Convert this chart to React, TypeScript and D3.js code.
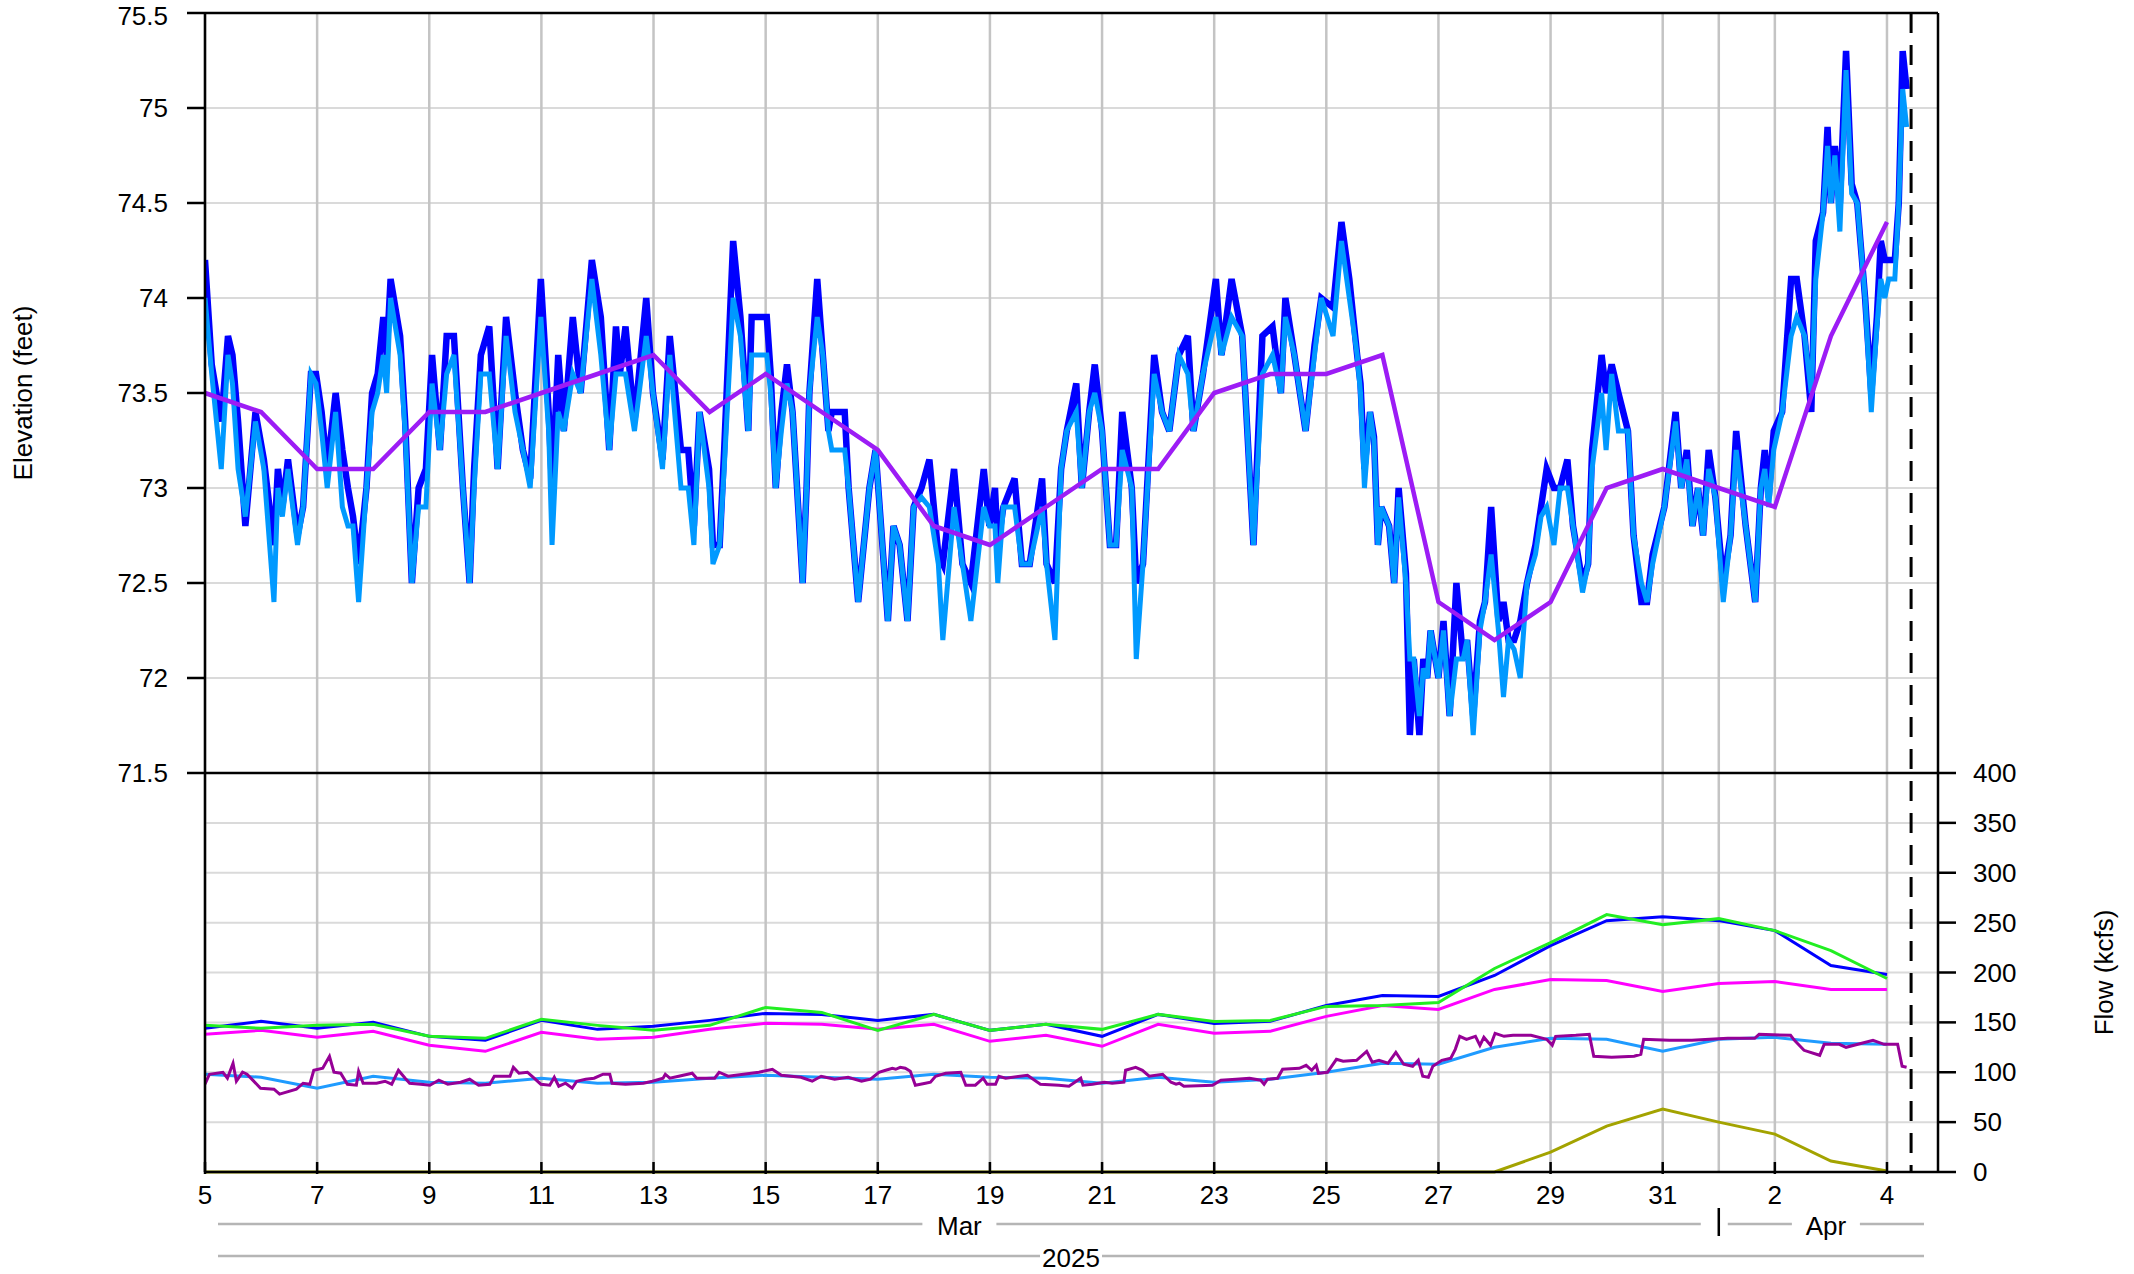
import React, { useEffect } from "react";
import * as d3 from "d3";

// elevation readings: [days since Mar 5, gauge A, gauge B]
const elevationObs: [number, number, number][] = [
  [0.0, 74.2, 74.0], [0.12, 73.65, 73.6], [0.29, 73.35, 73.1], [0.41, 73.8, 73.7], [0.49, 73.7, 73.55],
  [0.59, 73.35, 73.1], [0.72, 72.8, 72.85], [0.9, 73.4, 73.35], [1.05, 73.15, 73.1], [1.23, 72.7, 72.4],
  [1.3, 73.1, 73.0], [1.38, 72.9, 72.85], [1.48, 73.15, 73.1], [1.65, 72.75, 72.7], [1.75, 72.9, 72.9],
  [1.89, 73.6, 73.6], [1.98, 73.6, 73.55], [2.08, 73.4, 73.3], [2.18, 73.1, 73.0], [2.33, 73.5, 73.4],
  [2.45, 73.2, 72.9], [2.55, 73.0, 72.8], [2.64, 72.85, 72.8], [2.74, 72.6, 72.4], [2.88, 73.0, 73.0],
  [2.98, 73.5, 73.4], [3.08, 73.6, 73.5], [3.18, 73.9, 73.7], [3.24, 73.7, 73.5], [3.31, 74.1, 74.0],
  [3.48, 73.8, 73.7], [3.57, 73.35, 73.3], [3.69, 72.5, 72.5], [3.81, 73.0, 72.9], [3.94, 73.1, 72.9],
  [4.05, 73.7, 73.55], [4.19, 73.2, 73.2], [4.31, 73.8, 73.6], [4.44, 73.8, 73.7], [4.6, 73.0, 73.0],
  [4.72, 72.5, 72.5], [4.8, 73.1, 73.0], [4.92, 73.7, 73.6], [5.07, 73.85, 73.6], [5.22, 73.1, 73.1],
  [5.37, 73.9, 73.8], [5.53, 73.5, 73.4], [5.67, 73.2, 73.2], [5.8, 73.05, 73.0], [5.99, 74.1, 73.9],
  [6.13, 73.4, 73.3], [6.19, 73.0, 72.7], [6.3, 73.7, 73.4], [6.4, 73.3, 73.3], [6.56, 73.9, 73.6],
  [6.7, 73.5, 73.5], [6.9, 74.2, 74.1], [7.06, 73.9, 73.7], [7.21, 73.2, 73.2], [7.33, 73.85, 73.6],
  [7.4, 73.6, 73.6], [7.5, 73.85, 73.6], [7.66, 73.35, 73.3], [7.87, 74.0, 73.8], [7.99, 73.5, 73.5],
  [8.16, 73.15, 73.1], [8.29, 73.8, 73.7], [8.49, 73.2, 73.0], [8.62, 73.2, 73.0], [8.72, 72.8, 72.7],
  [8.82, 73.4, 73.4], [8.99, 73.1, 73.0], [9.06, 72.7, 72.6], [9.18, 72.7, 72.7], [9.26, 73.2, 73.1],
  [9.42, 74.3, 74.0], [9.55, 73.9, 73.8], [9.69, 73.3, 73.3], [9.75, 73.9, 73.7], [10.02, 73.9, 73.7],
  [10.09, 73.6, 73.5], [10.18, 73.0, 73.0], [10.28, 73.4, 73.3], [10.38, 73.65, 73.55], [10.48, 73.4, 73.4],
  [10.66, 72.5, 72.5], [10.73, 73.0, 73.0], [10.78, 73.5, 73.5], [10.92, 74.1, 73.9], [11.02, 73.7, 73.7],
  [11.12, 73.3, 73.3], [11.18, 73.4, 73.2], [11.41, 73.4, 73.2], [11.48, 73.0, 73.0], [11.65, 72.4, 72.4],
  [11.85, 73.0, 73.0], [11.96, 73.2, 73.2], [12.18, 72.3, 72.3], [12.28, 72.8, 72.8], [12.39, 72.7, 72.7],
  [12.53, 72.3, 72.3], [12.64, 72.9, 72.9], [12.78, 73.0, 72.95], [12.92, 73.15, 72.9], [13.08, 72.65, 72.6],
  [13.16, 72.6, 72.2], [13.36, 73.1, 72.9], [13.51, 72.6, 72.6], [13.66, 72.5, 72.3], [13.89, 73.1, 72.9],
  [13.99, 72.8, 72.8], [14.09, 73.0, 72.8], [14.14, 72.7, 72.5], [14.24, 72.9, 72.9], [14.44, 73.05, 72.9],
  [14.57, 72.6, 72.6], [14.71, 72.6, 72.6], [14.93, 73.05, 72.9], [15.01, 72.6, 72.6], [15.16, 72.5, 72.2],
  [15.27, 73.1, 73.1], [15.37, 73.3, 73.3], [15.54, 73.55, 73.4], [15.64, 73.0, 73.0], [15.77, 73.4, 73.4],
  [15.87, 73.65, 73.5], [16.0, 73.3, 73.3], [16.14, 72.7, 72.7], [16.25, 72.7, 72.7], [16.36, 73.4, 73.2],
  [16.53, 73.0, 73.0], [16.61, 72.5, 72.1], [16.73, 72.6, 72.6], [16.93, 73.7, 73.6], [17.07, 73.4, 73.4],
  [17.2, 73.3, 73.3], [17.37, 73.7, 73.7], [17.53, 73.8, 73.6], [17.63, 73.3, 73.3], [17.8, 73.6, 73.6],
  [18.03, 74.1, 73.9], [18.13, 73.7, 73.7], [18.31, 74.1, 73.9], [18.5, 73.8, 73.8], [18.7, 72.7, 72.7],
  [18.86, 73.8, 73.6], [19.04, 73.85, 73.7], [19.19, 73.5, 73.5], [19.27, 74.0, 73.9], [19.43, 73.7, 73.7],
  [19.63, 73.3, 73.3], [19.79, 73.75, 73.7], [19.91, 74.0, 74.0], [20.12, 73.95, 73.8], [20.27, 74.4, 74.3],
  [20.41, 74.1, 74.0], [20.55, 73.7, 73.7], [20.61, 73.55, 73.5], [20.68, 73.1, 73.0], [20.78, 73.4, 73.4],
  [20.85, 73.27, 73.25], [20.92, 72.7, 72.7], [20.98, 72.9, 72.9], [21.12, 72.8, 72.8], [21.21, 72.5, 72.5],
  [21.29, 73.0, 72.95], [21.42, 72.55, 72.5], [21.49, 71.7, 72.1], [21.56, 72.1, 72.1], [21.66, 71.7, 71.8],
  [21.73, 72.1, 72.05], [21.8, 72.0, 72.0], [21.86, 72.25, 72.25], [22.0, 72.0, 72.0], [22.09, 72.3, 72.25],
  [22.2, 71.8, 71.8], [22.32, 72.5, 72.1], [22.44, 72.1, 72.1], [22.51, 72.2, 72.2], [22.62, 71.8, 71.7],
  [22.74, 72.3, 72.25], [22.83, 72.4, 72.4], [22.94, 72.9, 72.65], [23.07, 72.3, 72.25], [23.16, 72.4, 71.9],
  [23.25, 72.2, 72.2], [23.35, 72.2, 72.15], [23.46, 72.3, 72.0], [23.58, 72.5, 72.5], [23.73, 72.7, 72.65],
  [23.83, 72.9, 72.85], [23.93, 73.1, 72.9], [24.06, 73.0, 72.7], [24.17, 73.0, 73.0], [24.3, 73.15, 73.0],
  [24.4, 72.8, 72.8], [24.57, 72.5, 72.45], [24.67, 72.6, 72.6], [24.74, 73.2, 73.1], [24.91, 73.7, 73.5],
  [24.99, 73.5, 73.2], [25.09, 73.65, 73.6], [25.21, 73.5, 73.3], [25.38, 73.3, 73.3], [25.48, 72.75, 72.75],
  [25.62, 72.4, 72.5], [25.72, 72.4, 72.4], [25.82, 72.65, 72.6], [26.03, 72.9, 72.9], [26.23, 73.4, 73.35],
  [26.33, 73.0, 73.0], [26.43, 73.2, 73.15], [26.53, 72.8, 72.8], [26.63, 73.0, 73.0], [26.72, 72.75, 72.75],
  [26.82, 73.2, 73.1], [26.94, 72.95, 72.95], [27.08, 72.5, 72.4], [27.21, 72.75, 72.75], [27.31, 73.3, 73.2],
  [27.48, 72.8, 72.8], [27.65, 72.4, 72.4], [27.75, 73.0, 73.0], [27.82, 73.2, 73.1], [27.89, 72.95, 72.9],
  [27.98, 73.3, 73.2], [28.13, 73.4, 73.4], [28.29, 74.1, 73.8], [28.39, 74.1, 73.9], [28.53, 73.8, 73.8],
  [28.65, 73.4, 73.5], [28.73, 74.3, 74.1], [28.86, 74.45, 74.45], [28.94, 74.9, 74.8], [29.0, 74.5, 74.5],
  [29.07, 74.8, 74.75], [29.16, 74.5, 74.35], [29.27, 75.3, 75.2], [29.37, 74.6, 74.55], [29.47, 74.5, 74.5],
  [29.61, 74.0, 74.0], [29.72, 73.5, 73.4], [29.82, 73.9, 73.85], [29.89, 74.3, 74.1], [29.96, 74.2, 74.0],
  [30.03, 74.2, 74.1], [30.14, 74.2, 74.1], [30.21, 74.5, 74.5], [30.28, 75.3, 75.1], [30.35, 75.1, 74.9],
];

// daily values, one per day from Mar 5 to Apr 4
const dailyDays = [0, 1, 2, 3, 4, 5, 6, 7, 8, 9, 10, 11, 12, 13, 14, 15, 16, 17, 18, 19, 20, 21, 22, 23, 24, 25, 26, 27, 28, 29, 30];
const elevDaily = [73.5, 73.4, 73.1, 73.1, 73.4, 73.4, 73.5, 73.6, 73.7, 73.4, 73.6, 73.4, 73.2, 72.8, 72.7, 72.9, 73.1, 73.1, 73.5, 73.6, 73.6, 73.7, 72.4, 72.2, 72.4, 73.0, 73.1, 73.0, 72.9, 73.8, 74.4];
const flowBlue = [144, 151, 144, 150, 136, 132, 152, 143, 146, 152, 159, 158, 152, 158, 142, 148, 136, 158, 149, 151, 167, 177, 176, 197, 227, 252, 256, 252, 242, 207, 198];
const flowGreen = [147, 144, 147, 148, 136, 134, 153, 147, 142, 147, 165, 160, 142, 158, 142, 148, 143, 158, 151, 152, 166, 167, 170, 204, 230, 258, 248, 254, 242, 222, 194];
const flowMagenta = [138, 142, 135, 141, 127, 121, 140, 133, 135, 143, 149, 148, 143, 148, 131, 137, 126, 148, 139, 141, 156, 167, 163, 183, 193, 192, 181, 189, 191, 183, 183];
const flowLightBlue = [98, 95, 84, 96, 90, 89, 94, 89, 90, 94, 97, 95, 93, 98, 95, 94, 89, 95, 90, 93, 100, 109, 108, 125, 134, 133, 121, 133, 135, 129, 128];
const flowOlive = [0, 0, 0, 0, 0, 0, 0, 0, 0, 0, 0, 0, 0, 0, 0, 0, 0, 0, 0, 0, 0, 0, 0, 0, 20, 46, 63, 50, 38, 11, 1];

// hourly-ish outflow: [days since Mar 5, kcfs]
const flowHourly: [number, number][] = [
  [0.0, 88], [0.08, 98], [0.32, 100], [0.4, 94], [0.5, 109], [0.56, 91], [0.67, 100], [0.75, 98], [0.99, 84],
  [1.23, 83], [1.33, 78], [1.63, 83], [1.75, 89], [1.87, 88], [1.94, 102], [2.1, 104], [2.22, 116], [2.3, 100],
  [2.42, 99], [2.54, 88], [2.7, 87], [2.74, 101], [2.82, 89], [3.06, 89], [3.21, 91], [3.33, 88], [3.45, 102],
  [3.57, 94], [3.65, 89], [3.85, 88], [4.01, 87], [4.17, 92], [4.33, 88], [4.56, 90], [4.72, 93], [4.88, 87],
  [5.08, 88], [5.16, 96], [5.44, 96], [5.5, 105], [5.6, 99], [5.75, 100], [5.83, 96], [5.99, 88], [6.15, 87],
  [6.23, 95], [6.31, 86], [6.43, 89], [6.55, 84], [6.63, 91], [6.79, 93], [6.94, 94], [7.1, 98], [7.22, 98],
  [7.26, 89], [7.5, 88], [7.82, 89], [7.98, 91], [8.17, 94], [8.21, 98], [8.29, 94], [8.45, 96], [8.69, 99],
  [8.77, 94], [9.09, 94], [9.17, 100], [9.33, 96], [9.88, 100], [10.12, 103], [10.28, 97], [10.63, 95],
  [10.83, 91], [10.99, 96], [11.23, 93], [11.47, 95], [11.71, 91], [11.87, 93], [12.02, 100], [12.14, 102],
  [12.26, 104], [12.32, 103], [12.4, 105], [12.49, 104], [12.58, 101], [12.67, 87], [12.85, 89], [12.94, 90],
  [13.03, 96], [13.21, 99], [13.48, 100], [13.57, 87], [13.74, 87], [13.88, 94], [13.95, 88], [14.1, 88],
  [14.16, 96], [14.28, 94], [14.67, 97], [14.9, 88], [15.23, 87], [15.41, 86], [15.62, 94], [15.66, 87],
  [15.83, 88], [16.04, 90], [16.18, 89], [16.39, 90], [16.42, 102], [16.6, 105], [16.72, 102], [16.84, 96],
  [17.08, 98], [17.23, 90], [17.32, 88], [17.38, 89], [17.46, 86], [17.97, 87], [18.12, 92], [18.39, 93],
  [18.63, 94], [18.83, 92], [18.89, 88], [18.95, 93], [19.13, 94], [19.22, 103], [19.52, 104], [19.64, 107],
  [19.74, 102], [19.82, 107], [19.86, 99], [20.02, 100], [20.18, 113], [20.3, 111], [20.54, 112], [20.72, 121],
  [20.82, 110], [20.94, 112], [21.1, 109], [21.24, 120], [21.38, 108], [21.54, 106], [21.64, 112], [21.72, 96],
  [21.82, 95], [21.9, 106], [22.06, 112], [22.22, 114], [22.3, 123], [22.38, 136], [22.5, 133], [22.66, 136],
  [22.74, 127], [22.81, 135], [22.93, 127], [23.01, 139], [23.17, 136], [23.33, 137], [23.65, 137], [23.93, 133],
  [24.03, 127], [24.09, 136], [24.45, 137], [24.69, 138], [24.77, 116], [25.09, 115], [25.49, 116], [25.61, 118],
  [25.66, 133], [26.12, 132], [26.52, 132], [27.16, 134], [27.64, 134], [27.72, 138], [28.28, 137], [28.35, 132],
  [28.52, 122], [28.8, 117], [28.88, 128], [29.15, 128], [29.27, 125], [29.55, 129], [29.75, 132], [29.95, 128],
  [30.19, 128], [30.27, 106], [30.35, 105],
];

const tickDays = [0, 2, 4, 6, 8, 10, 12, 14, 16, 18, 20, 22, 24, 26, 28, 30];
const tickLabels = ["5", "7", "9", "11", "13", "15", "17", "19", "21", "23", "25", "27", "29", "31", "2", "4"];
const monthStartDay = 27; // Apr 1
const elevTicks = [71.5, 72, 72.5, 73, 73.5, 74, 74.5, 75, 75.5];
const flowTicks = [0, 50, 100, 150, 200, 250, 300, 350, 400];

const W = 2134;
const H = 1274;
const left = 205;
const right = 1938;
const top = 13;
const mid = 773;
const bottom = 1172;
const lastDay = 30.91;
const nowDay = 30.43;
const font = "'Liberation Sans', Arial, Helvetica, sans-serif";

export default function App() {
  useEffect(() => {
    document.body.style.margin = "0";
  }, []);

  const x = d3.scaleLinear().domain([0, lastDay]).range([left, right]);
  const yTop = d3.scaleLinear().domain([71.5, 75.5]).range([mid, top]);
  const yBot = d3.scaleLinear().domain([0, 400]).range([bottom, mid]);

  const lineA = d3.line<[number, number, number]>().x(d => x(d[0])).y(d => yTop(d[1]));
  const lineB = d3.line<[number, number, number]>().x(d => x(d[0])).y(d => yTop(d[2]));
  const dailyTop = d3.line<number>().x((_, i) => x(dailyDays[i])).y(d => yTop(d));
  const dailyBot = d3.line<number>().x((_, i) => x(dailyDays[i])).y(d => yBot(d));
  const hourlyBot = d3.line<[number, number]>().x(d => x(d[0])).y(d => yBot(d[1]));

  const gridDays = [...tickDays, monthStartDay];
  const textStyle = { fontFamily: font, fontSize: 26, fill: "#000" };

  const labelRowStart = x(0) + 13;
  const labelRowEnd = x(lastDay) - 14;
  const monthSplit = x(monthStartDay);
  const grayLine = { stroke: "#b5b5b5", strokeWidth: 2.5 };

  const segRow = (x0: number, x1: number, y: number, label: string, half: number, key: string) => {
    const cx = (x0 + x1) / 2;
    return (
      <g key={key}>
        <line x1={x0} x2={cx - half} y1={y} y2={y} {...grayLine} />
        <line x1={cx + half} x2={x1} y1={y} y2={y} {...grayLine} />
        <text x={cx} y={y + 2} textAnchor="middle" dominantBaseline="central" style={textStyle}>{label}</text>
      </g>
    );
  };

  return (
    <svg width={W} height={H} style={{ display: "block", background: "#fff" }}>
      <defs>
        <clipPath id="topClip"><rect x={left} y={top} width={right - left} height={mid - top} /></clipPath>
        <clipPath id="botClip"><rect x={left} y={mid} width={right - left} height={bottom - mid + 2} /></clipPath>
      </defs>

      {/* horizontal grid */}
      {elevTicks.slice(1, -1).map(t => (
        <line key={"ge" + t} x1={left} x2={right} y1={yTop(t)} y2={yTop(t)} stroke="#dadada" strokeWidth={2} />
      ))}
      {flowTicks.slice(1, -1).map(t => (
        <line key={"gf" + t} x1={left} x2={right} y1={yBot(t)} y2={yBot(t)} stroke="#dadada" strokeWidth={2} />
      ))}
      {/* vertical grid */}
      {gridDays.map(d => (
        <line key={"gv" + d} x1={x(d)} x2={x(d)} y1={top} y2={bottom} stroke="#c4c4c4" strokeWidth={2.5} />
      ))}

      {/* elevation panel */}
      <g clipPath="url(#topClip)" fill="none" strokeLinejoin="miter">
        <path d={lineA(elevationObs) || ""} stroke="#0000ff" strokeWidth={6.5} />
        <path d={lineB(elevationObs) || ""} stroke="#0099ff" strokeWidth={5} />
        <path d={dailyTop(elevDaily) || ""} stroke="#9c1cf5" strokeWidth={4.5} />
      </g>

      {/* flow panel */}
      <g clipPath="url(#botClip)" fill="none" strokeWidth={3}>
        <path d={dailyBot(flowOlive) || ""} stroke="#a3a300" />
        <path d={dailyBot(flowLightBlue) || ""} stroke="#1f9bff" />
        <path d={hourlyBot(flowHourly) || ""} stroke="#960096" />
        <path d={dailyBot(flowMagenta) || ""} stroke="#ff00ff" />
        <path d={dailyBot(flowBlue) || ""} stroke="#0000ff" />
        <path d={dailyBot(flowGreen) || ""} stroke="#22ee22" />
      </g>

      {/* current time */}
      <line x1={x(nowDay)} x2={x(nowDay)} y1={top} y2={bottom} stroke="#000" strokeWidth={3} strokeDasharray="20 12" />

      {/* frames */}
      <g stroke="#000" strokeWidth={2.5} fill="none">
        <line x1={left} x2={right} y1={top} y2={top} />
        <line x1={left} x2={right} y1={mid} y2={mid} />
        <line x1={left} x2={right} y1={bottom} y2={bottom} />
        <line x1={left} x2={left} y1={top} y2={bottom} />
        <line x1={right} x2={right} y1={top} y2={bottom} />
      </g>

      {/* left axis */}
      {elevTicks.map(t => (
        <g key={"le" + t}>
          <line x1={left - 18} x2={left} y1={yTop(t)} y2={yTop(t)} stroke="#000" strokeWidth={2.5} />
          <text x={168} y={Math.max(yTop(t), 16)} textAnchor="end" dominantBaseline="central" style={textStyle}>{t}</text>
        </g>
      ))}
      {/* right axis */}
      {flowTicks.map(t => (
        <g key={"rf" + t}>
          <line x1={right} x2={right + 18} y1={yBot(t)} y2={yBot(t)} stroke="#000" strokeWidth={2.5} />
          <text x={1973} y={yBot(t)} textAnchor="start" dominantBaseline="central" style={textStyle}>{t}</text>
        </g>
      ))}
      {/* bottom axis */}
      {tickDays.map((d, i) => (
        <g key={"bx" + d}>
          <line x1={x(d)} x2={x(d)} y1={bottom - 10} y2={bottom + 2} stroke="#000" strokeWidth={2.5} />
          <text x={x(d)} y={1195} textAnchor="middle" dominantBaseline="central" style={textStyle}>{tickLabels[i]}</text>
        </g>
      ))}

      {segRow(labelRowStart, monthSplit - 18, 1224, "Mar", 37, "mar")}
      <line x1={monthSplit} x2={monthSplit} y1={1208} y2={1236} stroke="#000" strokeWidth={2.5} />
      {segRow(monthSplit + 9, labelRowEnd, 1224, "Apr", 34, "apr")}
      {segRow(labelRowStart, labelRowEnd, 1256, "2025", 31, "yr")}

      <text transform={`translate(23,${(top + mid) / 2}) rotate(-90)`} textAnchor="middle" dominantBaseline="central" style={textStyle}>Elevation (feet)</text>
      <text transform={`translate(2104,${(mid + bottom) / 2}) rotate(-90)`} textAnchor="middle" dominantBaseline="central" style={textStyle}>Flow (kcfs)</text>
    </svg>
  );
}
